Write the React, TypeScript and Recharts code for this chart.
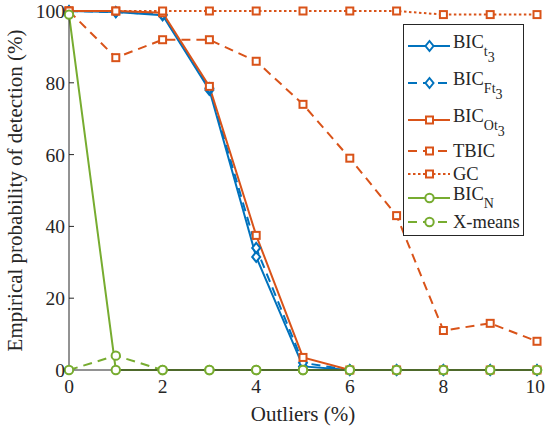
import React from 'react';
import { LineChart, Line, XAxis, YAxis, Legend } from 'recharts';

const outliers = [0, 1, 2, 3, 4, 5, 6, 7, 8, 9, 10];
const bicT3 = [100, 99.7, 98.8, 78, 31.5, 1, 0, 0, 0, 0, 0];
const bicFt3 = [100, 99.7, 99, 78.5, 34, 2, 0, 0, 0, 0, 0];
const bicOt3 = [100, 100, 99.5, 79, 37.5, 3.5, 0, 0, 0, 0, 0];
const tbic = [100, 87, 92, 92, 86, 74, 59, 43, 11, 13, 8];
const gc = [100, 100, 100, 100, 100, 100, 100, 100, 99, 99, 99];
const bicN = [99, 0, 0, 0, 0, 0, 0, 0, 0, 0, 0];
const xmeans = [0, 4, 0, 0, 0, 0, 0, 0, 0, 0, 0];
const xTicks = [0, 2, 4, 6, 8, 10];
const yTicks = [0, 20, 40, 60, 80, 100];

const BLUE = '#0072BD';
const ORANGE = '#D95319';
const GREEN = '#77AC30';
const INK = '#262626';
const FONT = '"Liberation Serif", "Times New Roman", serif';

const data = outliers.map((x, i) => ({
  x,
  bicT3: bicT3[i],
  bicFt3: bicFt3[i],
  bicOt3: bicOt3[i],
  tbic: tbic[i],
  gc: gc[i],
  bicN: bicN[i],
  xmeans: xmeans[i],
}));

type Shape = 'diamond' | 'square' | 'circle';

const series: { key: string; main: string; sub?: string; sub2?: string; color: string; dash?: string; shape: Shape }[] = [
  { key: 'bicT3', main: 'BIC', sub: 't', sub2: '3', color: BLUE, shape: 'diamond' },
  { key: 'bicFt3', main: 'BIC', sub: 'Ft', sub2: '3', color: BLUE, dash: '9 6', shape: 'diamond' },
  { key: 'bicOt3', main: 'BIC', sub: 'Ot', sub2: '3', color: ORANGE, shape: 'square' },
  { key: 'tbic', main: 'TBIC', color: ORANGE, dash: '9 6', shape: 'square' },
  { key: 'gc', main: 'GC', color: ORANGE, dash: '2.5 2.5', shape: 'square' },
  { key: 'bicN', main: 'BIC', sub: 'N', color: GREEN, shape: 'circle' },
  { key: 'xmeans', main: 'X-means', color: GREEN, dash: '9 6', shape: 'circle' },
];

function marker(shape: Shape, color: string, cx: number, cy: number, key?: any) {
  if (shape === 'diamond') {
    return (
      <polygon
        key={key}
        points={`${cx},${cy - 5} ${cx + 4},${cy} ${cx},${cy + 5} ${cx - 4},${cy}`}
        fill="#fff"
        stroke={color}
        strokeWidth={2}
      />
    );
  }
  if (shape === 'square') {
    return <rect key={key} x={cx - 3.5} y={cy - 3.5} width={7} height={7} fill="#fff" stroke={color} strokeWidth={2} />;
  }
  return <circle key={key} cx={cx} cy={cy} r={4.2} fill="#fff" stroke={color} strokeWidth={2} />;
}

const legendRows = [22, 59, 96, 127, 150, 174, 198];

function LegendBox() {
  return (
    <svg width={121} height={212} style={{ display: 'block', overflow: 'visible' }}>
      <rect x={0.5} y={0.5} width={120} height={211} fill="#fff" stroke={INK} strokeWidth={1} />
      {series.map((s, i) => {
        const ly = legendRows[i];
        const hasSub = !!s.sub;
        const base = hasSub ? ly + 2 : ly + 6;
        return (
          <g key={s.key}>
            <line x1={5} x2={47} y1={ly} y2={ly} stroke={s.color} strokeWidth={2} strokeDasharray={s.dash} />
            {marker(s.shape, s.color, 26.5, ly)}
            <text x={50} y={base} fontFamily={FONT} fontSize={18.5} fill={INK}>
              {s.main}
              {s.sub ? (
                <tspan fontSize={14} dy={7.5}>
                  {s.sub}
                </tspan>
              ) : null}
              {s.sub2 ? (
                <tspan fontSize={14} dy={6.5}>
                  {s.sub2}
                </tspan>
              ) : null}
            </text>
          </g>
        );
      })}
    </svg>
  );
}

const tickStyle = { fontFamily: FONT, fontSize: 19.5, fill: INK };

export default function App() {
  return (
    <div style={{ position: 'absolute', left: 0, top: 0, background: '#fff' }}>
      <LineChart width={545} height={429} data={data} margin={{ top: 11, right: 8, bottom: 0, left: 0 }}>
        <XAxis
          dataKey="x"
          type="number"
          domain={[0, 10]}
          ticks={xTicks}
          height={59}
          tickSize={-5}
          tickMargin={14}
          stroke={INK}
          tick={tickStyle}
          axisLine={{ stroke: INK, strokeWidth: 1 }}
          tickLine={{ stroke: INK }}
          label={{
            content: (p: any) => {
              const vb = p.viewBox || {};
              return (
                <text x={vb.x + vb.width / 2} y={vb.y + 51} textAnchor="middle" fontFamily={FONT} fontSize={21} fill={INK}>
                  Outliers (%)
                </text>
              );
            },
          }}
        />
        <XAxis
          xAxisId="top"
          dataKey="x"
          type="number"
          orientation="top"
          domain={[0, 10]}
          ticks={xTicks}
          height={0}
          tickSize={-5}
          tickFormatter={() => ''}
          stroke={INK}
          axisLine={{ stroke: INK, strokeWidth: 1 }}
          tickLine={{ stroke: INK }}
        />
        <YAxis
          type="number"
          domain={[0, 100]}
          ticks={yTicks}
          width={69}
          tickSize={-5}
          tickMargin={9}
          stroke={INK}
          tick={tickStyle}
          axisLine={{ stroke: INK, strokeWidth: 1 }}
          tickLine={{ stroke: INK }}
          label={{
            content: (p: any) => {
              const vb = p.viewBox || {};
              const cy = vb.y + vb.height / 2;
              return (
                <text
                  x={22}
                  y={cy}
                  transform={`rotate(-90, 22, ${cy})`}
                  textAnchor="middle"
                  fontFamily={FONT}
                  fontSize={21}
                  fill={INK}
                >
                  Empirical probability of detection (%)
                </text>
              );
            },
          }}
        />
        <YAxis
          yAxisId="right"
          orientation="right"
          type="number"
          domain={[0, 100]}
          ticks={yTicks}
          width={0}
          tickSize={-5}
          tickFormatter={() => ''}
          stroke={INK}
          axisLine={{ stroke: INK, strokeWidth: 1 }}
          tickLine={{ stroke: INK }}
        />
        {series.map((s) => (
          <Line
            key={s.key}
            dataKey={s.key}
            type="linear"
            stroke={s.color}
            strokeWidth={2}
            strokeDasharray={s.dash}
            isAnimationActive={false}
            activeDot={false}
            dot={(p: any) => (p.cx == null ? <g key={p.index} /> : marker(s.shape, s.color, p.cx, p.cy, p.index))}
          />
        ))}
        <Legend
          layout="vertical"
          align="center"
          verticalAlign="middle"
          content={() => <LegendBox />}
          wrapperStyle={{ left: 403, top: 24, width: 121, height: 212 }}
        />
      </LineChart>
    </div>
  );
}
